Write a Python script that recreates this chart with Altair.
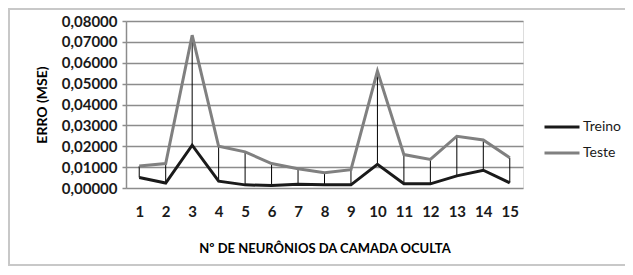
import altair as alt
import pandas as pd

neuronios = list(range(1, 16))
treino = [0.0050, 0.0024, 0.0205, 0.0033, 0.0015, 0.0012, 0.0018, 0.0015, 0.0015,
          0.0113, 0.0020, 0.0020, 0.0058, 0.0085, 0.0025]
teste = [0.0105, 0.0117, 0.0732, 0.0200, 0.0173, 0.0117, 0.0092, 0.0073, 0.0088,
         0.0560, 0.0160, 0.0137, 0.0248, 0.0230, 0.0145]
series = ["Treino", "Teste"]
colors = ["#1a1a1a", "#808080"]
y_ticks = [0.0, 0.01, 0.02, 0.03, 0.04, 0.05, 0.06, 0.07, 0.08]

wide = pd.DataFrame({"n": neuronios, "Treino": treino, "Teste": teste})
long = wide.melt(id_vars="n", value_vars=series, var_name="serie", value_name="erro")

FONT = "Lato"

x_enc = alt.X("n:O", scale=alt.Scale(type="point", padding=0.5),
              axis=alt.Axis(title="Nº DE NEURÔNIOS DA CAMADA OCULTA", labelAngle=0,
                            domain=False, ticks=False, grid=False,
                            labelPadding=16, labelFontSize=15, labelFont=FONT,
                            labelFontWeight="bold", labelColor="#1a1a1a",
                            titleFont=FONT, titleFontSize=13, titleFontWeight="bold",
                            titleColor="#000000", titlePadding=23))

y_axis = alt.Axis(title="ERRO (MSE)", values=y_ticks,
                  labelExpr="replace(format(datum.value, '.5f'), '.', ',')",
                  grid=True, gridColor="#8c8c8c", gridWidth=1.5,
                  domain=True, domainColor="#8c8c8c", domainWidth=1.5,
                  ticks=True, tickSize=4, tickColor="#8c8c8c", tickWidth=1.5,
                  labelPadding=5, labelFontSize=15, labelFont=FONT, labelFontWeight="bold",
                  labelColor="#1a1a1a", titleFont=FONT, titleFontSize=14,
                  titleFontWeight="bold", titleColor="#000000", titlePadding=12)

border = alt.Chart(pd.DataFrame({"a": [0]})).mark_rect(
    fill=None, stroke="#c8c8c8", strokeWidth=2, clip=False
).encode(x=alt.value(-117), x2=alt.value(520), y=alt.value(-12), y2=alt.value(244))

drops = alt.Chart(wide).mark_rule(color="#000000", strokeWidth=1).encode(
    x=x_enc,
    y=alt.Y("Treino:Q", scale=alt.Scale(domain=[0, 0.08]), axis=y_axis),
    y2="Teste:Q",
)

lines = alt.Chart(long).mark_line(strokeWidth=3).encode(
    x=x_enc,
    y=alt.Y("erro:Q", scale=alt.Scale(domain=[0, 0.08]), axis=y_axis),
    color=alt.Color("serie:N", scale=alt.Scale(domain=series, range=colors),
                    legend=alt.Legend(title=None, orient="none", legendX=417, legendY=87,
                                      symbolType="stroke", symbolSize=1225,
                                      symbolStrokeWidth=3, labelFont=FONT,
                                      labelFontSize=14, labelColor="#1a1a1a",
                                      labelOffset=2, rowPadding=0)),
)

chart = alt.layer(border, drops, lines).properties(
    width=397, height=167,
    autosize=alt.AutoSizeParams(type="none"),
    padding={"left": 118, "top": 13, "right": 102, "bottom": 78},
).configure_view(stroke=None).configure(background="white")

chart.save("out.html", embed_options={"renderer": "svg", "actions": False})
